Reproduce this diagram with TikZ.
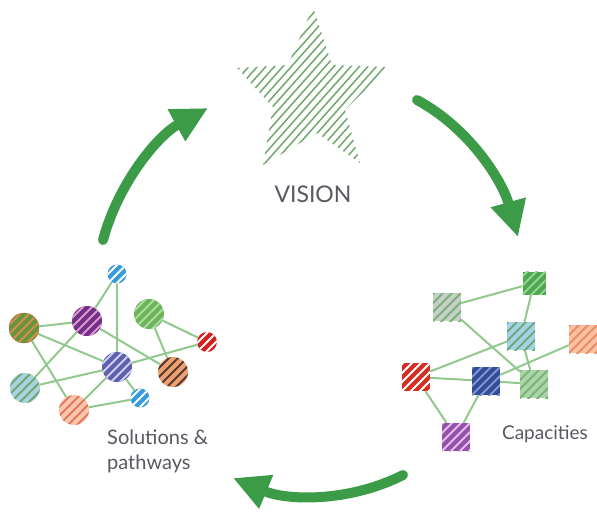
\documentclass[tikz,border=0pt]{standalone}
\usepackage{fontspec}
\setmainfont{Lato}
\usetikzlibrary{arrows.meta}

\definecolor{cycgreen}{RGB}{60,155,70}
\definecolor{linkgreen}{RGB}{145,200,140}
\definecolor{stargreen}{RGB}{110,168,110}
\definecolor{textgray}{RGB}{88,88,98}
% fills and stripes
\definecolor{greyfill}{RGB}{200,206,200}
\definecolor{midstripe}{RGB}{120,180,120}
\definecolor{darkfill}{RGB}{78,168,78}
\definecolor{lightstripe}{RGB}{150,210,150}
\definecolor{skyfill}{RGB}{165,210,230}
\definecolor{skystripe}{RGB}{110,170,120}
\definecolor{peachfill}{RGB}{250,192,162}
\definecolor{peachstripe}{RGB}{236,140,100}
\definecolor{redfill}{RGB}{212,45,35}
\definecolor{navyfill}{RGB}{50,75,155}
\definecolor{navystripe}{RGB}{130,150,205}
\definecolor{palefill}{RGB}{172,212,166}
\definecolor{plumfill}{RGB}{150,80,170}
\definecolor{plumstripe}{RGB}{225,190,235}
\definecolor{bluefill}{RGB}{55,155,218}
\definecolor{olivefill}{RGB}{100,150,60}
\definecolor{olivestripe}{RGB}{220,140,80}
\definecolor{oliveedge}{RGB}{170,120,60}
\definecolor{grapefill}{RGB}{110,50,140}
\definecolor{grapestripe}{RGB}{230,150,200}
\definecolor{leaffill}{RGB}{110,180,90}
\definecolor{leafstripe}{RGB}{170,220,160}
\definecolor{cherryfill}{RGB}{215,30,30}
\definecolor{violetfill}{RGB}{95,95,175}
\definecolor{violetstripe}{RGB}{205,205,240}
\definecolor{orangefill}{RGB}{240,160,110}
\definecolor{orangestripe}{RGB}{80,60,50}
\definecolor{icefill}{RGB}{170,210,225}
\definecolor{icestripe}{RGB}{110,170,110}
\definecolor{salmonfill}{RGB}{250,200,175}
\definecolor{salmonstripe}{RGB}{230,120,90}

\begin{document}
\begin{tikzpicture}[x=1pt,y=-1pt,
    hatch/.style={path picture={
      \foreach \k in {-45,-36,...,45}
        \draw[#1,line width=1.8pt]
          ([shift={({(\k-30)*1pt},-30pt)}]path picture bounding box.center) -- ++(60pt,60pt);
    }},
    box/.style={rectangle, minimum size=28pt, inner sep=0pt},
    dot/.style={circle, minimum size=30pt, inner sep=0pt},
    smalldot/.style={circle, minimum size=19pt, inner sep=0pt},
    link/.style={linkgreen, line width=2pt},
    cyc/.style={cycgreen, line width=10pt, line cap=round,
      -{Triangle[length=36pt,width=34pt]}},
    caption/.style={textgray, inner sep=0pt}]

  \useasboundingbox (0,0) rectangle (597,512);

  % star
  \begin{scope}
    \clip (313,7) -- (332,65) -- (388,67) -- (345,110) -- (360,163) -- (317,133)
      -- (263,165) -- (273,107) -- (237,68) -- (288,65) -- cycle;
    \foreach \k in {80,88.5,...,420}
      \draw[stargreen, line width=1.5pt] (\k,180) -- ++(160,-180);
  \end{scope}
  \node[caption, font=\fontsize{23}{26}\selectfont] (vision) at (313,194) {VISION};

  % capacities
  \node[box, fill=greyfill, hatch=midstripe] (A) at (447,307) {};
  \node[box, minimum size=23pt, fill=darkfill, hatch=lightstripe] (B) at (534,283) {};
  \node[box, fill=skyfill, hatch=skystripe] (C) at (521,336) {};
  \node[box, fill=peachfill, hatch=peachstripe] (D) at (583,339) {};
  \node[box, fill=redfill, hatch=white] (E) at (416,377) {};
  \node[box, fill=navyfill, hatch=navystripe] (F) at (486,381) {};
  \node[box, fill=palefill, hatch=midstripe] (G) at (534,384) {};
  \node[box, fill=plumfill, hatch=plumstripe] (H) at (456,437) {};

  \foreach \a/\b in {A/B,A/G,B/C,C/G,E/C,F/D,E/F,F/G,E/H,F/H}
    \draw[link] (\a) -- (\b);

  \node[caption, font=\fontsize{19}{22}\selectfont] (capacities) at (545,434) {Capacities};

  % solutions
  \node[smalldot, fill=bluefill, hatch=white] (s1) at (117,274) {};
  \node[dot, draw=oliveedge, fill=olivefill, hatch=olivestripe] (s2) at (24,328) {};
  \node[dot, fill=grapefill, hatch=grapestripe] (s3) at (87,321) {};
  \node[dot, fill=leaffill, hatch=leafstripe] (s4) at (149,314) {};
  \node[smalldot, minimum size=20pt, fill=cherryfill, hatch=white] (s5) at (207,342) {};
  \node[dot, fill=violetfill, hatch=violetstripe] (s6) at (117,367) {};
  \node[dot, fill=orangefill, hatch=orangestripe] (s7) at (173,372) {};
  \node[dot, fill=icefill, hatch=icestripe] (s8) at (25,388) {};
  \node[smalldot, fill=bluefill, hatch=white] (s9) at (140,398) {};
  \node[dot, fill=salmonfill, hatch=salmonstripe] (s10) at (74,410) {};

  \foreach \a/\b in {s1/s3,s1/s6,s2/s3,s2/s6,s2/s10,s3/s7,s3/s8,s4/s5,s4/s7,
                     s6/s5,s6/s8,s6/s10,s6/s9,s9/s10}
    \draw[link] (\a) -- (\b);

  \node[caption, font=\fontsize{20}{25}\selectfont, align=left, anchor=north west] (solutions) at (107,430) {Solutions \&\\pathways};

  % cycle arrows
  \coordinate (a1s) at (103,240);
  \coordinate (a1e) at (208,108);
  \coordinate (a2s) at (417,100);
  \coordinate (a2e) at (518,237);
  \coordinate (a3s) at (403,475);
  \coordinate (a3e) at (233,478);

  \draw[cyc] (a1s) .. controls (118,184) and (157,136) .. (a1e);
  \draw[cyc] (a2s) .. controls (469,128) and (502,180) .. (a2e);
  \draw[cyc] (a3s) .. controls (350,502) and (288,501) .. (a3e);

\end{tikzpicture}
\end{document}
